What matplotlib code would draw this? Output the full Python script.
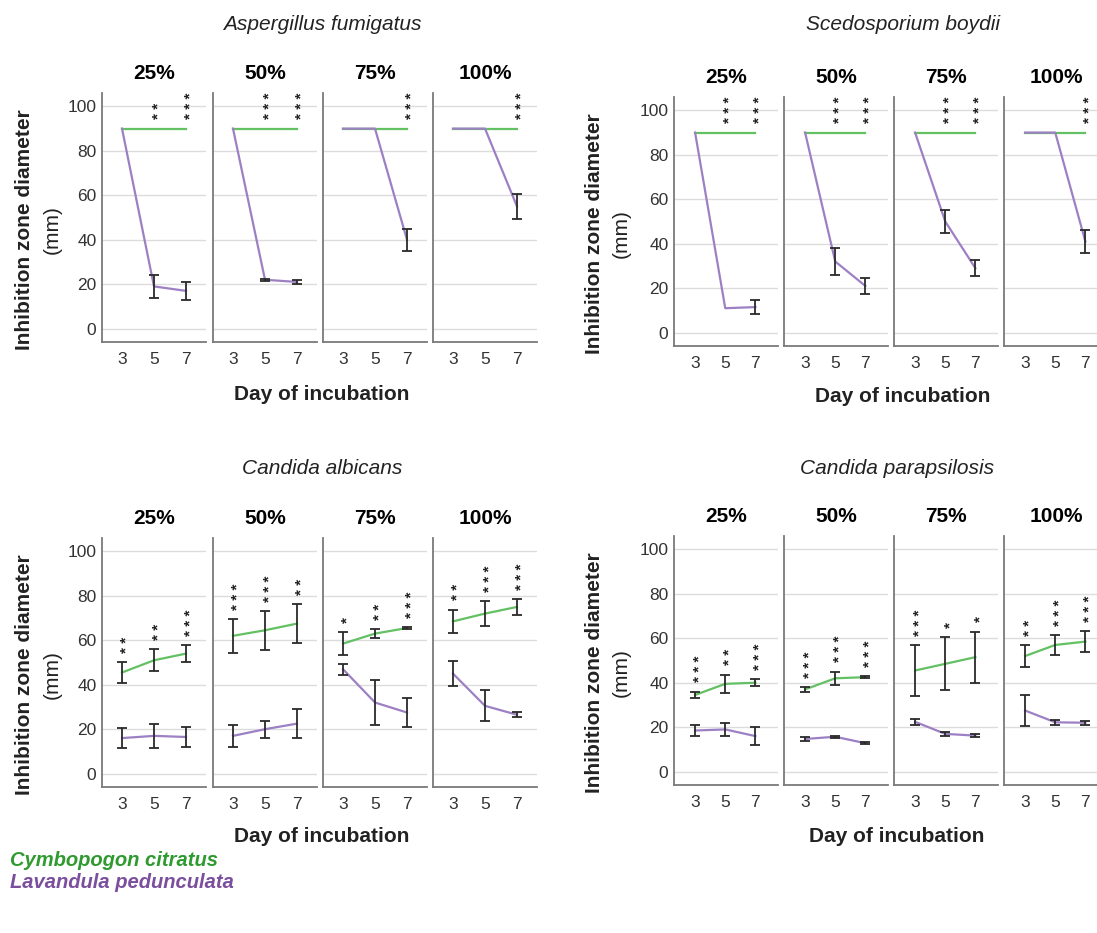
import matplotlib
matplotlib.use('Agg')
import matplotlib.pyplot as plt
import numpy as np

plt.rcParams['font.family'] = ['Liberation Sans', 'DejaVu Sans']

days = [3, 5, 7]
concentrations = ['25%', '50%', '75%', '100%']
species = ['Aspergillus fumigatus', 'Scedosporium boydii',
           'Candida albicans', 'Candida parapsilosis']
oils = ['Cymbopogon citratus', 'Lavandula pedunculata']

# Cymbopogon citratus (green) - one row per concentration, values at days 3/5/7
afum_cc = [[90, 90, 90], [90, 90, 90], [90, 90, 90], [90, 90, 90]]
afum_cc_err = [[0, 0, 0], [0, 0, 0], [0, 0, 0], [0, 0, 0]]
sbo_cc = [[90, 90, 90], [90, 90, 90], [90, 90, 90], [90, 90, 90]]
sbo_cc_err = [[0, 0, 0], [0, 0, 0], [0, 0, 0], [0, 0, 0]]
cal_cc = [[45.5, 51, 54], [62, 64.5, 67.5], [58.5, 63, 65.5], [68.5, 72, 75]]
cal_cc_err = [[4.7, 5, 3.8], [7.6, 8.7, 8.7], [5.3, 1.9, 0.5], [5.3, 5.7, 3.7]]
cpa_cc = [[34.5, 39.5, 40], [37, 42, 42.5], [45.5, 48.5, 51.5], [52, 57, 58.5]]
cpa_cc_err = [[1.5, 4.2, 1.5], [1.2, 3, 0.4], [11.4, 11.9, 11.5], [4.9, 4.5, 4.9]]

# Lavandula pedunculata (purple)
afum_lp = [[90, 19, 17], [90, 22, 21], [90, 90, 40], [90, 90, 55]]
afum_lp_err = [[0, 5, 4], [0, 0.5, 1], [0, 0, 5], [0, 0, 5.5]]
sbo_lp = [[90, 11, 11.5], [90, 32, 21], [90, 50, 29], [90, 90, 41]]
sbo_lp_err = [[0, 0, 3], [0, 6, 3.7], [0, 5, 3.5], [0, 0, 5]]
cal_lp = [[16, 17, 16.5], [17, 20, 22.5], [47, 32, 27.5], [45, 30.5, 26.5]]
cal_lp_err = [[4.4, 5.5, 4.7], [5, 3.8, 6.4], [2.5, 10.3, 6.5], [5.7, 7, 1.2]]
cpa_lp = [[18.5, 19, 16], [14.7, 15.7, 12.8], [22.4, 17, 16.2], [27.5, 22.2, 22]]
cpa_lp_err = [[2.4, 3, 4], [0.7, 0.5, 0.4], [1.5, 0.8, 0.6], [7, 1.2, 1]]

# number of significance asterisks
afum_stars = [[0, 2, 3], [0, 3, 3], [0, 0, 3], [0, 0, 3]]
sbo_stars = [[0, 3, 3], [0, 3, 3], [0, 3, 3], [0, 0, 3]]
cal_stars = [[2, 2, 3], [3, 3, 2], [1, 2, 3], [2, 3, 3]]
cpa_stars = [[3, 2, 3], [3, 3, 3], [3, 1, 1], [2, 3, 3]]

GREEN = '#63c063'
PURPLE = '#9d80c4'
GREEN_TXT = '#2f9a2f'
PURPLE_TXT = '#7b4f9d'
ERR = '#2a2a2a'
SPINE = '#7a7a7a'
GRID = '#dcdcdc'
STAR_FS = 11

W, H = 1097, 933
fig = plt.figure(figsize=(W / 100, H / 100), dpi=100)

# (data, panel lefts px, axes bottom px, xlim, centre x px, title y px, xlabel y px, ylabel x px)
groups = [
    (afum_cc, afum_cc_err, afum_lp, afum_lp_err, afum_stars, [102, 213, 323, 433], 342, (1.75, 8.25), 322, 25, 395, 25),
    (sbo_cc, sbo_cc_err, sbo_lp, sbo_lp_err, sbo_stars, [674, 784, 894, 1004], 346, (1.6, 8.5), 903, 25, 397, 594),
    (cal_cc, cal_cc_err, cal_lp, cal_lp_err, cal_stars, [102, 213, 323, 433], 787, (1.75, 8.25), 322, 468, 837, 25),
    (cpa_cc, cpa_cc_err, cpa_lp, cpa_lp_err, cpa_stars, [674, 784, 894, 1004], 785, (1.6, 8.5), 897, 468, 837, 594),
]
PW, PH = 104, 249

for g, (cc, cce, lp, lpe, stars, lefts, bot, xl, cx, ty, xly, ylx) in enumerate(groups):
    for i, conc in enumerate(concentrations):
        ax = fig.add_axes([lefts[i] / W, 1 - bot / H, PW / W, PH / H])
        ax.set_xlim(*xl)
        ax.set_ylim(-6, 106)
        ax.set_yticks([0, 20, 40, 60, 80, 100])
        ax.set_xticks(days)
        ax.grid(axis='y', color=GRID, lw=1)
        ax.set_axisbelow(True)
        for s in ['top', 'right']:
            ax.spines[s].set_visible(False)
        for s in ['left', 'bottom']:
            ax.spines[s].set_color(SPINE)
            ax.spines[s].set_linewidth(1.3)
        ax.tick_params(length=0, labelsize=12.5, labelcolor='#333333')
        ax.tick_params(axis='x', pad=7)
        ax.tick_params(axis='y', pad=4)
        if i > 0:
            ax.set_yticklabels([])
        ax.set_title(conc, fontsize=15, fontweight='bold', pad=10)

        for vals, errs, col in [(cc[i], cce[i], GREEN), (lp[i], lpe[i], PURPLE)]:
            ax.plot(days, vals, color=col, lw=1.6, zorder=3)
            ix = [k for k in range(3) if errs[k] > 0]
            if ix:
                ax.errorbar([days[k] for k in ix], [vals[k] for k in ix],
                            yerr=[errs[k] for k in ix], fmt='none', ecolor=ERR,
                            elinewidth=1.3, capsize=3.5, capthick=1.3, zorder=4)

        # significance asterisks, stacked vertically above the highest bar
        for k in range(3):
            if stars[i][k] == 0:
                continue
            top = max(cc[i][k] + cce[i][k], lp[i][k] + lpe[i][k])
            ax.annotate(' '.join('*' * stars[i][k]), (days[k], top + 5.5),
                        xytext=(0.31 * STAR_FS, -0.2 * STAR_FS),
                        textcoords='offset points', ha='center', va='bottom',
                        rotation=90, fontsize=STAR_FS, fontweight='bold',
                        color='#222222', annotation_clip=False)

    fig.text(cx / W, 1 - ty / H, species[g], ha='center', va='center',
             fontsize=15, style='italic', color='#222222')
    fig.text(cx / W, 1 - xly / H, 'Day of incubation', ha='center', va='center',
             fontsize=15, fontweight='bold', color='#222222')
    ymid = bot - PH / 2 + 12
    fig.text(ylx / W, 1 - ymid / H, 'Inhibition zone diameter', ha='center', va='center',
             rotation=90, fontsize=15, fontweight='bold', color='#222222')
    fig.text((ylx + 27) / W, 1 - ymid / H, '(mm)', ha='center', va='center',
             rotation=90, fontsize=15, color='#222222')

fig.text(10 / W, 1 - 860 / H, oils[0], ha='left', va='center', fontsize=14.5,
         fontweight='bold', style='italic', color=GREEN_TXT)
fig.text(10 / W, 1 - 883 / H, oils[1], ha='left', va='center', fontsize=14.5,
         fontweight='bold', style='italic', color=PURPLE_TXT)

fig.savefig('out.png', dpi=100)
